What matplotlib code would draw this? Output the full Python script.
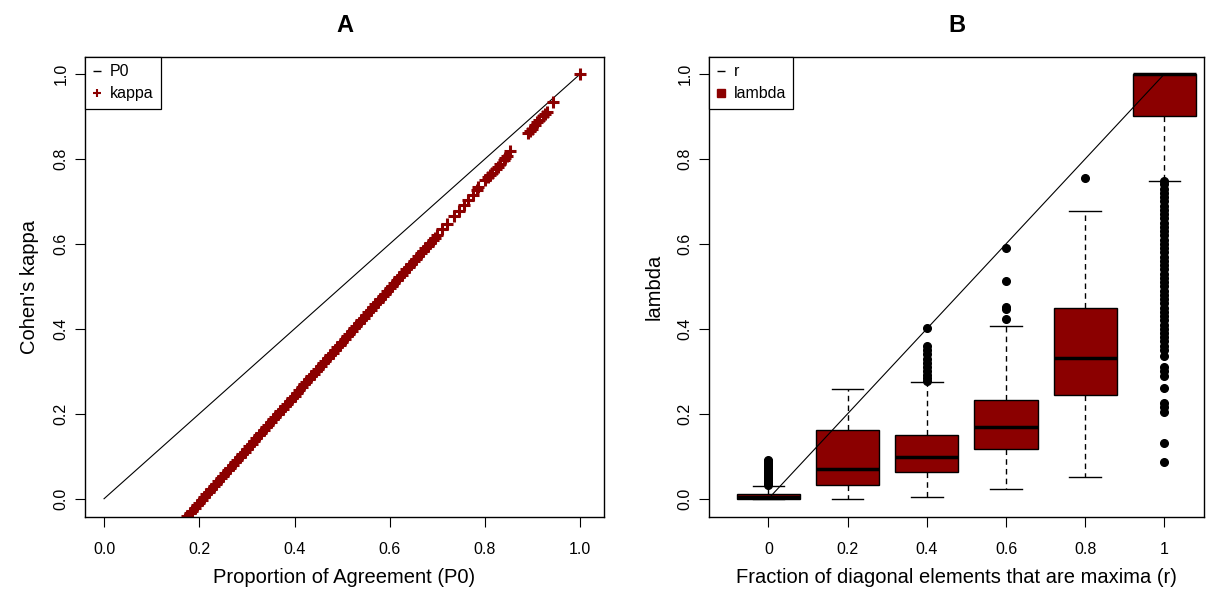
import numpy as np
import matplotlib
matplotlib.use("Agg")
import matplotlib.pyplot as plt

plt.rcParams['font.family'] = ['Liberation Sans', 'DejaVu Sans']

DARKRED = '#8B0000'

# ---- panel A: kappa against proportion of agreement ----
p0_ref = [0.0, 1.0]
p0 = [0.16, 0.17, 0.18, 0.19, 0.20, 0.21, 0.22, 0.23, 0.24, 0.25,
      0.26, 0.27, 0.28, 0.29, 0.30, 0.31, 0.32, 0.33, 0.34, 0.35,
      0.36, 0.37, 0.38, 0.39, 0.40, 0.41, 0.42, 0.43, 0.44, 0.45,
      0.46, 0.47, 0.48, 0.49, 0.50, 0.51, 0.52, 0.53, 0.54, 0.55,
      0.56, 0.57, 0.58, 0.59, 0.60, 0.61, 0.62, 0.63, 0.64, 0.65,
      0.66, 0.67, 0.68, 0.69, 0.70, 0.71, 0.72,
      0.735, 0.745, 0.755, 0.765, 0.775, 0.783, 0.786, 0.800,
      0.807, 0.815, 0.823, 0.831, 0.839, 0.846, 0.853,
      0.890, 0.898, 0.906, 0.914, 0.922, 0.930, 0.943, 1.0]
kappa = [-0.059, -0.047, -0.034, -0.021, -0.009, 0.004, 0.016, 0.029, 0.042, 0.054,
         0.067, 0.079, 0.092, 0.105, 0.117, 0.130, 0.142, 0.155, 0.168, 0.180,
         0.193, 0.206, 0.218, 0.231, 0.243, 0.256, 0.269, 0.281, 0.294, 0.306,
         0.319, 0.332, 0.344, 0.357, 0.369, 0.382, 0.395, 0.407, 0.420, 0.433,
         0.445, 0.458, 0.470, 0.483, 0.496, 0.508, 0.521, 0.533, 0.546, 0.559,
         0.571, 0.584, 0.596, 0.609, 0.622, 0.634, 0.647,
         0.666, 0.678, 0.691, 0.704, 0.716, 0.727, 0.735, 0.750,
         0.757, 0.767, 0.777, 0.787, 0.797, 0.806, 0.819,
         0.861, 0.871, 0.881, 0.891, 0.901, 0.911, 0.934, 1.0]
# the in-between points of the dense stretch
p0_mid = [0.165, 0.175, 0.185, 0.195, 0.205, 0.215, 0.225, 0.235, 0.245, 0.255,
          0.265, 0.275, 0.285, 0.295, 0.305, 0.315, 0.325, 0.335, 0.345, 0.355,
          0.365, 0.375, 0.385, 0.395, 0.405, 0.415, 0.425, 0.435, 0.445, 0.455,
          0.465, 0.475, 0.485, 0.495, 0.505, 0.515, 0.525, 0.535, 0.545, 0.555,
          0.565, 0.575, 0.585, 0.595, 0.605, 0.615, 0.625, 0.635, 0.645, 0.655,
          0.665, 0.675, 0.685, 0.695, 0.811, 0.827, 0.843, 0.894, 0.910, 0.926]
kappa_mid = [-0.053, -0.040, -0.028, -0.015, -0.003, 0.010, 0.023, 0.035, 0.048, 0.061,
             0.073, 0.086, 0.098, 0.111, 0.124, 0.136, 0.149, 0.161, 0.174, 0.187,
             0.199, 0.212, 0.224, 0.237, 0.250, 0.262, 0.275, 0.288, 0.300, 0.313,
             0.325, 0.338, 0.351, 0.363, 0.376, 0.388, 0.401, 0.414, 0.426, 0.439,
             0.451, 0.464, 0.477, 0.489, 0.502, 0.514, 0.527, 0.540, 0.552, 0.565,
             0.578, 0.590, 0.603, 0.615, 0.762, 0.782, 0.802, 0.866, 0.886, 0.906]

# ---- panel B: lambda by fraction of diagonal maxima ----
r_labels = ['0', '0.2', '0.4', '0.6', '0.8', '1']
r_values = [0.0, 0.2, 0.4, 0.6, 0.8, 1.0]
lam_q1 = [0.000, 0.033, 0.064, 0.116, 0.245, 0.900]
lam_med = [0.003, 0.070, 0.099, 0.169, 0.332, 1.000]
lam_q3 = [0.012, 0.161, 0.149, 0.233, 0.449, 1.000]
lam_lo = [0.000, 0.000, 0.004, 0.024, 0.052, 0.749]
lam_hi = [0.029, 0.259, 0.274, 0.407, 0.678, 1.000]
lam_out = [
    [0.032, 0.036, 0.040, 0.044, 0.048, 0.052, 0.056, 0.060, 0.064, 0.068,
     0.072, 0.076, 0.080, 0.084, 0.088, 0.092],
    [],
    [0.278, 0.285, 0.292, 0.300, 0.310, 0.320, 0.330, 0.340, 0.350, 0.359, 0.403],
    [0.422, 0.447, 0.452, 0.512, 0.591],
    [0.756],
    [0.748, 0.740, 0.730, 0.720, 0.710, 0.700, 0.690, 0.680, 0.670, 0.660,
     0.650, 0.640, 0.630, 0.620, 0.610, 0.600, 0.590, 0.580, 0.570, 0.560,
     0.550, 0.540, 0.530, 0.520, 0.510, 0.500, 0.490, 0.480, 0.470, 0.460,
     0.450, 0.440, 0.430, 0.420, 0.410, 0.400, 0.390, 0.380, 0.372, 0.360,
     0.350, 0.335, 0.310, 0.300, 0.290, 0.261, 0.226, 0.215, 0.205, 0.132, 0.086],
]

W, H = 1215, 594
fig = plt.figure(figsize=(W / 100, H / 100), dpi=100)


def px_axes(left, top, right, bottom):
    return fig.add_axes([left / W, 1 - bottom / H, (right - left) / W, (bottom - top) / H])


def style(ax):
    for s in ax.spines.values():
        s.set_linewidth(1.0)
        s.set_color('black')
    ax.tick_params(direction='out', length=7, width=0.8, labelsize=11.5)
    ax.tick_params(axis='x', pad=11)
    ax.tick_params(axis='y', pad=5, labelrotation=90)
    for lab in ax.get_yticklabels():
        lab.set_va('center')


def legend(ax, handles, labels):
    leg = ax.legend(handles, labels, loc='upper left', borderaxespad=0, fontsize=11.5,
                    fancybox=False, handlelength=0.6, handletextpad=0.5, borderpad=0.45,
                    labelspacing=0.45, framealpha=1)
    leg.get_frame().set_edgecolor('black')
    leg.get_frame().set_linewidth(0.9)


# panel A
axA = px_axes(85, 57, 604, 517)
axA.plot(p0_ref, p0_ref, color='black', lw=0.8, zorder=1)
axA.plot(p0 + p0_mid, kappa + kappa_mid, ls='none', marker='+', ms=8, mew=2.2,
         color=DARKRED, zorder=2)
axA.set_xlim(-0.04, 1.05)
axA.set_ylim(-0.043, 1.040)
axA.set_xticks([0.0, 0.2, 0.4, 0.6, 0.8, 1.0])
axA.set_xticklabels(['0.0', '0.2', '0.4', '0.6', '0.8', '1.0'])
axA.set_yticks([0.0, 0.2, 0.4, 0.6, 0.8, 1.0])
axA.set_yticklabels(['0.0', '0.2', '0.4', '0.6', '0.8', '1.0'])
style(axA)
axA.set_xlabel('Proportion of Agreement (P0)', fontsize=14.5, labelpad=8)
axA.set_ylabel("Cohen's kappa", fontsize=14.5, labelpad=10)
axA.set_title('A', fontsize=17, fontweight='bold', pad=18)
legend(axA,
       [plt.Line2D([], [], ls='none', marker='_', ms=6, mew=1, color='black'),
        plt.Line2D([], [], ls='none', marker='+', ms=6, mew=1.5, color=DARKRED)],
       ['P0', 'kappa'])

# panel B
axB = px_axes(709, 57, 1204, 517)
pos = np.arange(1, len(r_labels) + 1)
stats = []
for i in range(len(r_labels)):
    stats.append(dict(q1=lam_q1[i], med=lam_med[i], q3=lam_q3[i],
                      whislo=lam_lo[i], whishi=lam_hi[i], fliers=lam_out[i]))
axB.bxp(stats, positions=pos, widths=0.8, capwidths=0.4, patch_artist=True,
        boxprops=dict(facecolor=DARKRED, edgecolor='black', linewidth=1),
        medianprops=dict(color='black', linewidth=2.5, solid_capstyle='butt'),
        whiskerprops=dict(color='black', linewidth=1, linestyle=(0, (4, 3))),
        capprops=dict(color='black', linewidth=1),
        flierprops=dict(marker='o', markerfacecolor='black', markeredgecolor='black',
                        markersize=5.5, linestyle='none'))
axB.plot(pos, r_values, color='black', lw=0.8, zorder=5)
axB.set_xlim(0.25, 6.5)
axB.set_ylim(-0.043, 1.040)
axB.set_xticks(pos)
axB.set_xticklabels(r_labels)
axB.set_yticks([0.0, 0.2, 0.4, 0.6, 0.8, 1.0])
axB.set_yticklabels(['0.0', '0.2', '0.4', '0.6', '0.8', '1.0'])
style(axB)
axB.set_xlabel('Fraction of diagonal elements that are maxima (r)', fontsize=14.5, labelpad=8)
axB.set_ylabel('lambda', fontsize=14.5, labelpad=10)
axB.set_title('B', fontsize=17, fontweight='bold', pad=18)
legend(axB,
       [plt.Line2D([], [], ls='none', marker='_', ms=6, mew=1, color='black'),
        plt.Line2D([], [], ls='none', marker='s', ms=6, color=DARKRED)],
       ['r', 'lambda'])

fig.savefig('out.png', dpi=100)
